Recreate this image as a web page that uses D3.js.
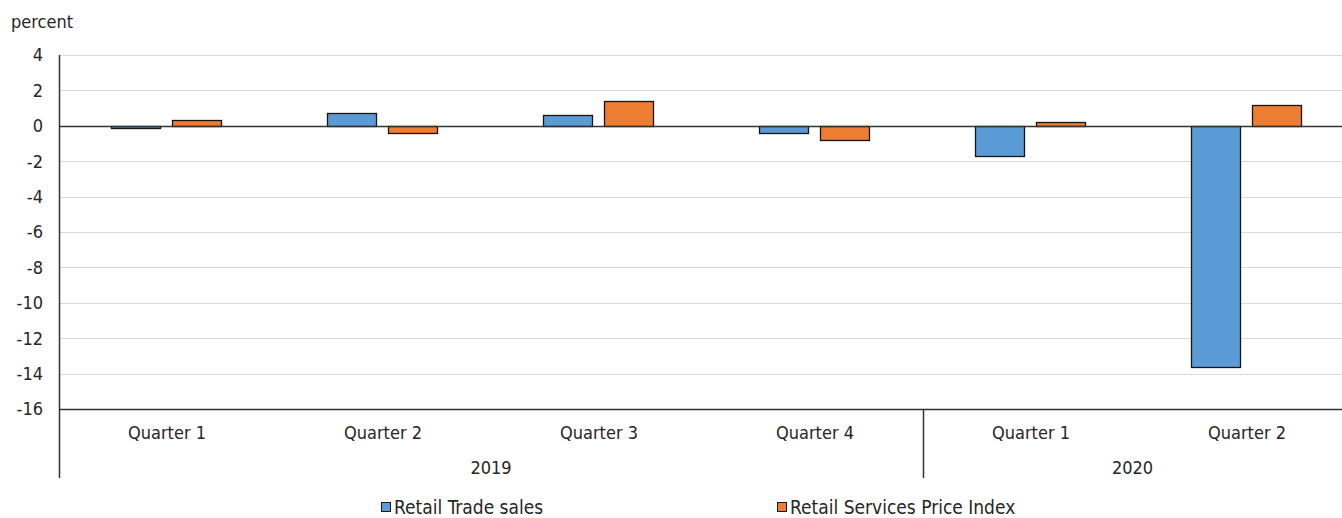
<!DOCTYPE html>
<html>
<head>
<meta charset="utf-8">
<script src="https://cdn.jsdelivr.net/npm/d3@7"></script>
<style>
  body { margin: 0; background: #fff; }
  svg { display: block; }
  text { font-family: "Liberation Sans Narrow", "DejaVu Sans Condensed", "Arial Narrow", sans-serif; fill: #262626; }
</style>
</head>
<body>
<script>
// data
var quarters = ["Quarter 1", "Quarter 2", "Quarter 3", "Quarter 4", "Quarter 1", "Quarter 2"];
var years = ["2019", "2019", "2019", "2019", "2020", "2020"];
var tradeSales = [-0.1, 0.7, 0.6, -0.4, -1.7, -13.6];
var priceIndex = [0.3, -0.4, 1.4, -0.8, 0.2, 1.2];
var seriesNames = ["Retail Trade sales", "Retail Services Price Index"];
var seriesColors = ["#5b9bd5", "#ed7d31"];
var yTicks = [4, 2, 0, -2, -4, -6, -8, -10, -12, -14, -16];

var width = 1342, height = 518;
var plotLeft = 59, plotRight = 1355, plotTop = 55, plotBottom = 409;

var svg = d3.select("body").append("svg")
    .attr("width", width)
    .attr("height", height);

var keys = quarters.map(function(q, i) { return years[i] + " " + q; });

var x0 = d3.scaleBand()
    .domain(keys)
    .range([plotLeft, plotRight]);

var x1 = d3.scaleBand()
    .domain([0, 1])
    .range([52, 162])
    .paddingInner(12 / 61);

var y = d3.scaleLinear()
    .domain([-16, 4])
    .range([plotBottom, plotTop]);

// gridlines
svg.append("g")
  .selectAll("line")
  .data(yTicks.filter(function(t) { return t !== 0 && t !== -16; }))
  .enter().append("line")
    .attr("x1", plotLeft).attr("x2", plotRight)
    .attr("y1", function(d) { return Math.round(y(d)) + 0.5; })
    .attr("y2", function(d) { return Math.round(y(d)) + 0.5; })
    .attr("stroke", "#d9d9d9")
    .attr("stroke-width", 1);

// y tick labels
svg.append("g")
  .selectAll("text")
  .data(yTicks)
  .enter().append("text")
    .attr("x", 43)
    .attr("y", function(d) { return y(d); })
    .attr("dy", "0.35em")
    .attr("text-anchor", "end")
    .style("font-size", "18px")
    .text(function(d) { return d; });

svg.append("text")
    .attr("x", 11)
    .attr("y", 28)
    .style("font-size", "18px")
    .text("percent");

// bars
var rows = keys.map(function(k, i) { return { key: k, values: [tradeSales[i], priceIndex[i]] }; });

var group = svg.append("g")
  .selectAll("g")
  .data(rows)
  .enter().append("g")
    .attr("transform", function(d) { return "translate(" + x0(d.key) + ",0)"; });

group.selectAll("rect")
  .data(function(d) { return d.values.map(function(v, s) { return { s: s, v: v }; }); })
  .enter().append("rect")
    .attr("x", function(d) { return Math.round(x1(d.s)) + 0.5; })
    .attr("width", x1.bandwidth())
    .attr("y", function(d) { return Math.round(y(Math.max(0, d.v))) + 0.5; })
    .attr("height", function(d) { return Math.max(1, Math.abs(Math.round(y(d.v)) - Math.round(y(0)))); })
    .attr("fill", function(d) { return seriesColors[d.s]; })
    .attr("stroke", "#141414")
    .attr("stroke-width", 1.3);

// zero line
svg.append("line")
    .attr("x1", plotLeft).attr("x2", plotRight)
    .attr("y1", Math.round(y(0)) + 0.5).attr("y2", Math.round(y(0)) + 0.5)
    .attr("stroke", "#333333")
    .attr("stroke-width", 1.3);

// axes
svg.append("line")
    .attr("x1", plotLeft).attr("x2", plotRight)
    .attr("y1", plotBottom + 0.5).attr("y2", plotBottom + 0.5)
    .attr("stroke", "#333333")
    .attr("stroke-width", 1.5);

svg.append("line")
    .attr("x1", plotLeft + 0.5).attr("x2", plotLeft + 0.5)
    .attr("y1", plotTop).attr("y2", 478)
    .attr("stroke", "#333333")
    .attr("stroke-width", 1.5);

// quarter labels
svg.append("g")
  .selectAll("text")
  .data(keys)
  .enter().append("text")
    .attr("x", function(d) { return x0(d) + x0.bandwidth() / 2; })
    .attr("y", 439)
    .attr("text-anchor", "middle")
    .style("font-size", "18px")
    .text(function(d, i) { return quarters[i]; });

// year labels and divider
var yearList = Array.from(new Set(years));
var yearSpans = yearList.map(function(yr) {
  var ks = keys.filter(function(k, i) { return years[i] === yr; });
  var a = x0(ks[0]), b = Math.min(x0(ks[ks.length - 1]) + x0.bandwidth(), width);
  return { year: yr, a: a, b: b };
});

svg.append("g")
  .selectAll("text")
  .data(yearSpans)
  .enter().append("text")
    .attr("x", function(d) { return (d.a + d.b) / 2; })
    .attr("y", 474)
    .attr("text-anchor", "middle")
    .style("font-size", "18px")
    .text(function(d) { return d.year; });

svg.append("g")
  .selectAll("line")
  .data(yearSpans.slice(1))
  .enter().append("line")
    .attr("x1", function(d) { return Math.round(d.a) + 0.5; })
    .attr("x2", function(d) { return Math.round(d.a) + 0.5; })
    .attr("y1", plotBottom).attr("y2", 478)
    .attr("stroke", "#333333")
    .attr("stroke-width", 1.5);

// legend
var legendX = [381, 777];
var legend = svg.append("g")
  .selectAll("g")
  .data(seriesNames)
  .enter().append("g")
    .attr("transform", function(d, i) { return "translate(" + legendX[i] + ",0)"; });

legend.append("rect")
    .attr("x", 0.5).attr("y", 502.5)
    .attr("width", 9).attr("height", 9)
    .attr("fill", function(d, i) { return seriesColors[i]; })
    .attr("stroke", "#1a1a1a")
    .attr("stroke-width", 1);

legend.append("text")
    .attr("x", 13)
    .attr("y", 514)
    .style("font-size", "19px")
    .text(function(d) { return d; });
</script>
</body>
</html>
